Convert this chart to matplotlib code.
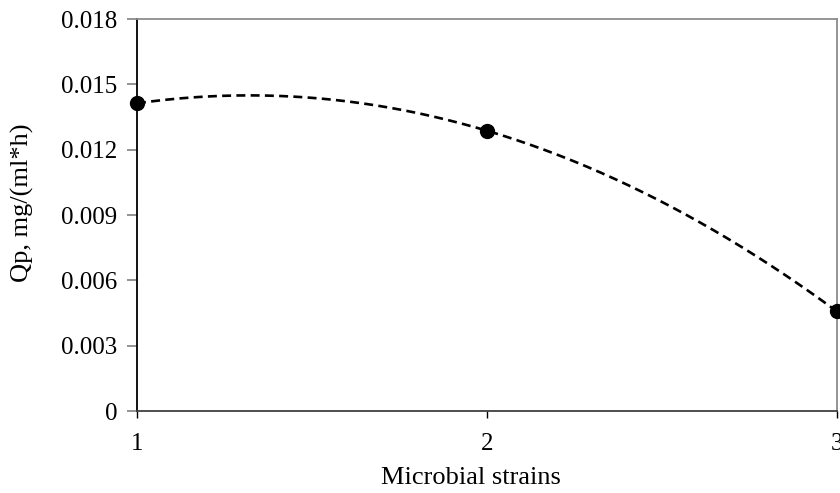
import matplotlib
matplotlib.use("Agg")
import matplotlib.pyplot as plt
import numpy as np

plt.rcParams['font.family'] = ['Liberation Serif', 'DejaVu Serif']

strains = [1, 2, 3]
qp = [0.01413, 0.01287, 0.00457]
yticks = [0, 0.003, 0.006, 0.009, 0.012, 0.015, 0.018]
ytick_labels = ['0', '0.003', '0.006', '0.009', '0.012', '0.015', '0.018']

fig = plt.figure(figsize=(8.4, 4.93), dpi=100)
ax = fig.add_axes([137 / 840, 1 - 411 / 493, 700 / 840, 392 / 493])

# second order trendline through the points
coef = np.polyfit(strains, qp, 2)
xs = np.linspace(1, 3, 200)
ax.plot(xs, np.polyval(coef, xs), color='black', linestyle=(0, (3.4, 2.0)), linewidth=1.9, zorder=2)
ax.plot(strains, qp, 'o', color='black', markersize=10, clip_on=False, zorder=3)

ax.set_xlim(1, 3)
ax.set_ylim(0, 0.018)
ax.set_xticks(strains)
ax.set_xticklabels(['1', '2', '3'])
ax.set_yticks(yticks)
ax.set_yticklabels(ytick_labels)

ax.spines['left'].set_color('black')
ax.spines['bottom'].set_color('#404040')
ax.spines['top'].set_color('#8c8c8c')
ax.spines['right'].set_color('#8c8c8c')
for s in ax.spines.values():
    s.set_linewidth(1.3)

ax.tick_params(axis='y', direction='out', length=7, width=1.2, color='#808080', labelsize=18, pad=7)
ax.tick_params(axis='x', direction='out', length=5, width=1, color='black', labelsize=18, pad=11)

ax.set_xlabel('Microbial strains', fontsize=19)
ax.xaxis.set_label_coords(0.477, -0.171)
ax.xaxis.label.set_verticalalignment('center')
ax.set_ylabel('Qp, mg/(ml*h)', fontsize=19)
ax.yaxis.set_label_coords(-0.164, 0.531)
ax.yaxis.label.set_verticalalignment('center')

fig.savefig('out.png', dpi=100)
